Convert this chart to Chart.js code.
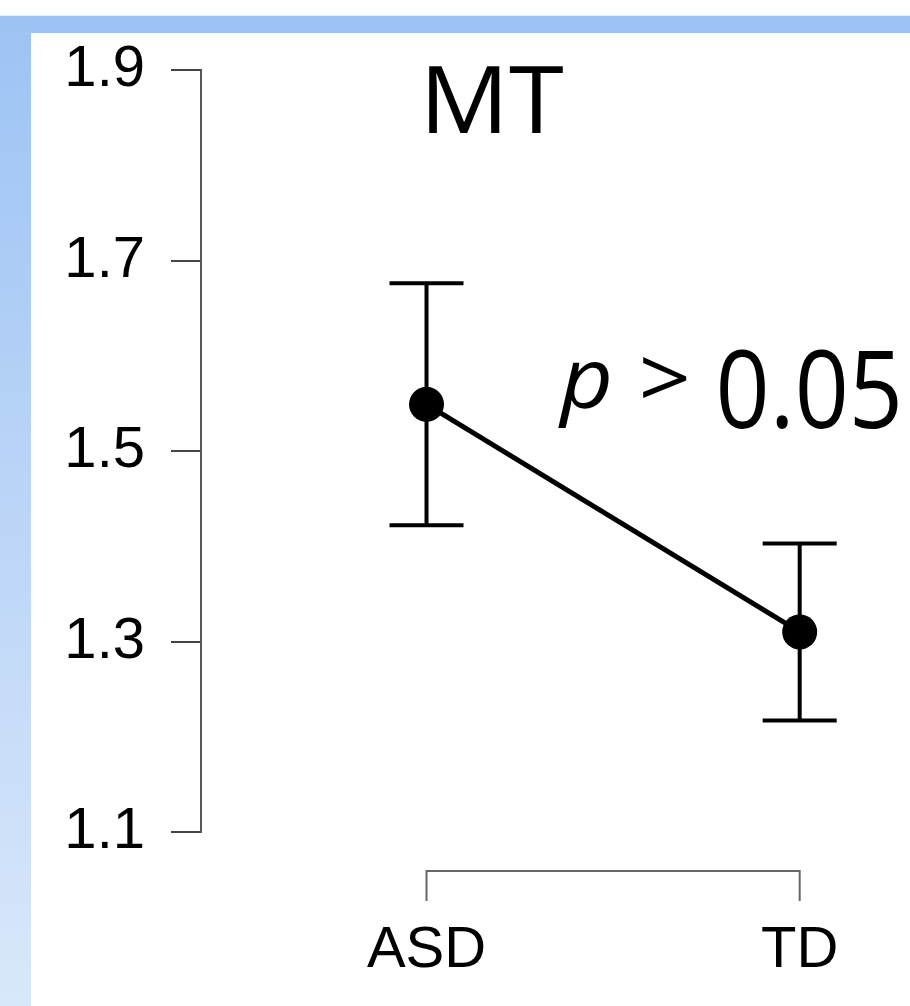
<!DOCTYPE html>
<html>
<head>
<meta charset="utf-8">
<title>MT</title>
<script src="https://cdn.jsdelivr.net/npm/chart.js@4.4.1/dist/chart.umd.min.js"></script>
<style>
  html, body { margin: 0; padding: 0; background: #fff; }
  #wrap { width: 910px; height: 1006px; position: relative; }
</style>
</head>
<body>
<div id="wrap"><canvas id="myChart"></canvas></div>
<script>
// data
var groups = ['ASD', 'TD'];
var means = [1.549, 1.310];
var lower = [1.422, 1.217];
var upper = [1.676, 1.403];
var yTicks = [1.1, 1.3, 1.5, 1.7, 1.9];
var title = 'MT';
var pLabel = 'p >';
var pValue = '0.05';

// slide background: blue band on top and left
var backgroundPlugin = {
    id: 'slideBg',
    beforeDraw: function(chart) {
        var ctx = chart.ctx;
        var w = chart.width, h = chart.height;
        ctx.save();
        ctx.fillStyle = '#ffffff';
        ctx.fillRect(0, 0, w, h);
        ctx.fillStyle = '#9dc3f4';
        ctx.fillRect(0, 16, w, 17);
        var grad = ctx.createLinearGradient(0, 16, 0, h);
        grad.addColorStop(0, '#9dc3f4');
        grad.addColorStop(1, '#d9e7fa');
        ctx.fillStyle = grad;
        ctx.fillRect(0, 16, 31, h - 16);
        ctx.fillStyle = '#e4eefb';
        ctx.fillRect(0, 15, w, 1);
        ctx.restore();
    }
};

// squeeze a string so its ink fits between left and right
function fitText(ctx, text, left, right, baseline) {
    var m = ctx.measureText(text);
    var inkW = m.actualBoundingBoxLeft + m.actualBoundingBoxRight;
    var sx = (right - left) / inkW;
    ctx.save();
    ctx.translate(left, baseline);
    ctx.scale(sx, 1);
    ctx.textAlign = 'left';
    ctx.textBaseline = 'alphabetic';
    ctx.fillText(text, m.actualBoundingBoxLeft, 0);
    ctx.restore();
}

// error bars, x bracket and the text annotations
var extrasPlugin = {
    id: 'extras',
    beforeDatasetsDraw: function(chart) {
        var ctx = chart.ctx;
        var xs = chart.scales.x, ys = chart.scales.y;
        ctx.save();
        ctx.strokeStyle = '#000';
        ctx.lineWidth = 4;
        for (var i = 0; i < groups.length; i++) {
            var px = xs.getPixelForValue(i);
            var yLo = ys.getPixelForValue(lower[i]);
            var yHi = ys.getPixelForValue(upper[i]);
            ctx.beginPath();
            ctx.moveTo(px, yLo); ctx.lineTo(px, yHi);
            ctx.moveTo(px - 37, yLo); ctx.lineTo(px + 37, yLo);
            ctx.moveTo(px - 37, yHi); ctx.lineTo(px + 37, yHi);
            ctx.stroke();
        }
        // bracket style x axis
        var x0 = xs.getPixelForValue(0), x1 = xs.getPixelForValue(groups.length - 1);
        ctx.strokeStyle = '#666';
        ctx.lineWidth = 2;
        ctx.beginPath();
        ctx.moveTo(x0, 901); ctx.lineTo(x0, 871); ctx.lineTo(x1, 871); ctx.lineTo(x1, 901);
        ctx.stroke();
        ctx.restore();
    },
    afterDraw: function(chart) {
        var ctx = chart.ctx;
        ctx.save();
        ctx.fillStyle = '#000';
        ctx.font = '94px "Open Sans"';
        fitText(ctx, title, 429, 563, 133);
        ctx.font = 'italic 84px "Open Sans"';
        fitText(ctx, pLabel, 558, 687, 408);
        ctx.font = '108px "Open Sans"';
        fitText(ctx, pValue, 720, 898, 428);
        ctx.restore();
    }
};

var ctx = document.getElementById('myChart').getContext('2d');
var myChart = new Chart(ctx, {
    type: 'line',
    data: {
        datasets: [{
            label: title,
            data: groups.map(function(g, i) { return { x: i, y: means[i] }; }),
            borderColor: '#000',
            borderWidth: 5,
            pointRadius: 17.5,
            pointBackgroundColor: '#000',
            pointBorderColor: '#000',
            pointBorderWidth: 0,
            tension: 0
        }]
    },
    options: {
        responsive: true,
        maintainAspectRatio: false,
        animation: false,
        layout: { padding: { top: 70, right: 10, left: 0, bottom: 0 } },
        plugins: { legend: { display: false }, tooltip: { enabled: false } },
        scales: {
            x: {
                type: 'linear',
                min: -0.6043,
                max: 1.2487,
                afterBuildTicks: function(scale) {
                    scale.ticks = groups.map(function(g, i) { return { value: i }; });
                },
                afterFit: function(scale) { scale.height = 174; },
                grid: { display: false, drawTicks: false },
                border: { display: false },
                ticks: {
                    autoSkip: false,
                    maxRotation: 0,
                    padding: 0,
                    color: '#000',
                    font: { family: '"Liberation Sans", Arial, sans-serif', size: 58, lineHeight: 4.12 },
                    callback: function(v) { return groups[v]; }
                }
            },
            y: {
                min: 1.1,
                max: 1.9,
                afterBuildTicks: function(scale) {
                    scale.ticks = yTicks.map(function(v) { return { value: v }; });
                },
                afterFit: function(scale) { scale.width = 201; },
                grid: {
                    drawOnChartArea: false,
                    drawTicks: true,
                    tickLength: 30,
                    color: '#444',
                    lineWidth: 2
                },
                border: { display: true, color: '#555', width: 2 },
                ticks: {
                    padding: 26,
                    color: '#000',
                    font: { family: '"Liberation Sans", Arial, sans-serif', size: 58 },
                    callback: function(v) { return v.toFixed(1); }
                }
            }
        }
    },
    plugins: [backgroundPlugin, extrasPlugin]
});
</script>
</body>
</html>
